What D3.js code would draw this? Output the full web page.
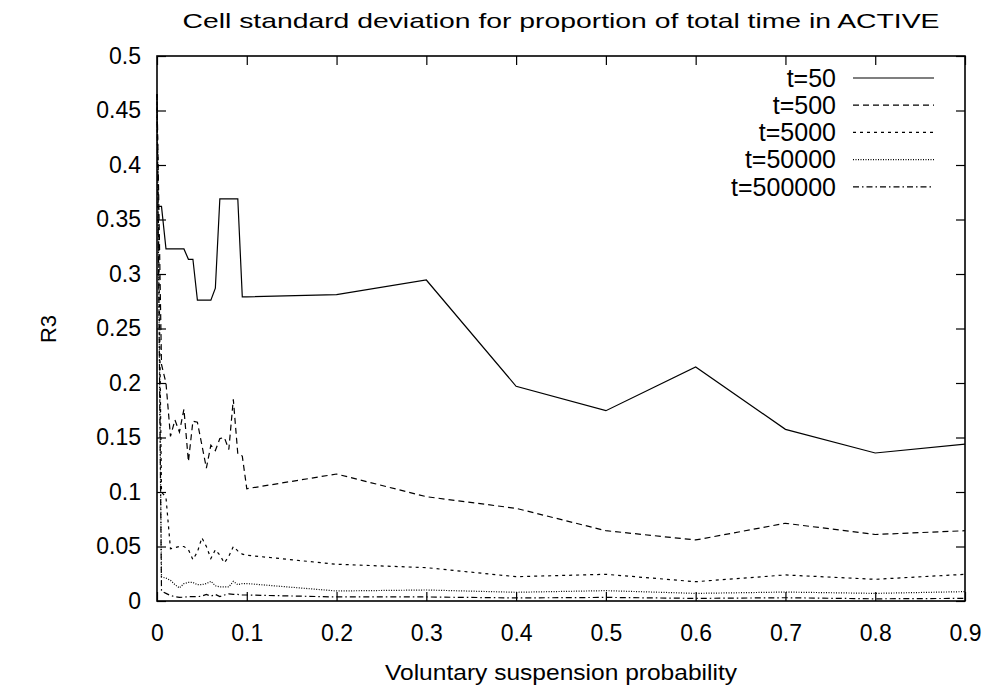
<!DOCTYPE html>
<html><head><meta charset="utf-8">
<script src="https://cdn.jsdelivr.net/npm/d3@7"></script>
<style>body{margin:0;background:#fff}svg{display:block}text{font-family:"Liberation Sans",Arial,sans-serif;fill:#000}</style>
</head><body><svg id="c" width="992" height="690"></svg>
<script>
const titleText = "Cell standard deviation for proportion of total time in ACTIVE";
const xLabel = "Voluntary suspension probability";
const yLabel = "R3";
const xTicks = [0,0.1,0.2,0.3,0.4,0.5,0.6,0.7,0.8,0.9];
const yTicks = [0,0.05,0.1,0.15,0.2,0.25,0.3,0.35,0.4,0.45,0.5];
const xValues = [0,0.005,0.01,0.015,0.02,0.025,0.03,0.035,0.04,0.045,0.05,0.055,0.06,0.065,0.07,0.075,0.08,0.085,0.09,0.095,0.1,0.2,0.3,0.4,0.5,0.6,0.7,0.8,0.9];
const seriesNames = ["t=50","t=500","t=5000","t=50000","t=500000"];
const t50 = [0.362,0.362,0.323,0.323,0.323,0.323,0.323,0.3135,0.3135,0.276,0.276,0.276,0.276,0.287,0.369,0.369,0.369,0.369,0.369,0.279,0.279,0.281,0.2945,0.197,0.1746,0.2147,0.1575,0.1358,0.144];
const t500 = [0.465,0.217,0.2,0.151,0.166,0.155,0.176,0.128,0.165,0.164,0.143,0.122,0.143,0.138,0.149,0.150,0.139,0.185,0.135,0.133,0.103,0.1165,0.0957,0.085,0.0645,0.056,0.0713,0.061,0.0645];
const t5000 = [0.465,0.1,0.095,0.048,0.049,0.05,0.05,0.047,0.038,0.045,0.058,0.05,0.039,0.047,0.042,0.035,0.041,0.05,0.046,0.043,0.042,0.0337,0.0306,0.0223,0.0245,0.0177,0.0239,0.0199,0.0245];
const t50000 = [0.465,0.022,0.021,0.019,0.015,0.012,0.016,0.017,0.017,0.015,0.015,0.016,0.018,0.014,0.013,0.013,0.013,0.018,0.015,0.016,0.016,0.0092,0.0101,0.008,0.0095,0.007,0.0082,0.007,0.0086];
const t500000 = [0.465,0.009,0.007,0.005,0.004,0.0034,0.0035,0.004,0.004,0.004,0.0045,0.006,0.0045,0.006,0.004,0.0055,0.0065,0.006,0.006,0.0055,0.0055,0.0037,0.0037,0.0028,0.0033,0.0024,0.003,0.002,0.0024];
const seriesValues = [t50,t500,t5000,t50000,t500000];
const dashes = [null,"6,4","3,4","1,1.5","6,3,1.5,3"];

const svg = d3.select("#c");
const L=157,R=965,T=56,B=601;
const x = d3.scaleLinear().domain([0,0.9]).range([L,R]);
const y = d3.scaleLinear().domain([0,0.5]).range([B,T]);
const fmt = d => d===0?"0":String(+d.toFixed(2));

function styleAxis(g){ g.select(".domain").remove(); g.selectAll("line").attr("stroke","#000").attr("stroke-width",1.2); g.selectAll("text").attr("font-size",23).attr("font-family","'Liberation Sans',Arial,sans-serif").attr("fill","#000"); }

svg.append("g").attr("transform",`translate(0,${B})`).call(d3.axisBottom(x).tickValues(xTicks).tickFormat(fmt).tickSizeInner(-9).tickSizeOuter(0).tickPadding(40)).call(styleAxis)
  .selectAll("text").attr("dy","0");
svg.append("g").attr("transform",`translate(0,${T})`).call(d3.axisTop(x).tickValues(xTicks).tickFormat("").tickSizeInner(-9).tickSizeOuter(0)).call(styleAxis);
svg.append("g").attr("transform",`translate(${L},0)`).call(d3.axisLeft(y).tickValues(yTicks).tickFormat(fmt).tickSizeInner(-9).tickSizeOuter(0).tickPadding(16)).call(styleAxis);
svg.append("g").attr("transform",`translate(${R},0)`).call(d3.axisRight(y).tickValues(yTicks).tickFormat("").tickSizeInner(-9).tickSizeOuter(0)).call(styleAxis);

const line = d3.line().x((d,i)=>x(xValues[i])).y(d=>y(d));
seriesValues.forEach((vals,k)=>{
  svg.append("path").attr("d",line(vals)).attr("fill","none").attr("stroke","#000").attr("stroke-width",1.2)
    .attr("stroke-dasharray",dashes[k]);
});

svg.append("rect").attr("x",L).attr("y",T).attr("width",R-L).attr("height",B-T).attr("fill","none").attr("stroke","#000").attr("stroke-width",1.6);

const lg = svg.append("g");
seriesNames.forEach((n,k)=>{
  const yy = 78 + k*27.2;
  lg.append("text").attr("x",836).attr("y",yy).attr("dy","0.35em").attr("text-anchor","end").attr("font-size",25).text(n);
  lg.append("line").attr("x1",853).attr("x2",934).attr("y1",yy).attr("y2",yy).attr("stroke","#000").attr("stroke-width",1.2).attr("stroke-dasharray",dashes[k]);
});

svg.append("text").attr("x",(L+R)/2).attr("y",28).attr("text-anchor","middle").attr("font-size",21).attr("textLength",757).attr("lengthAdjust","spacingAndGlyphs").text(titleText);
svg.append("text").attr("x",(L+R)/2).attr("y",680).attr("text-anchor","middle").attr("font-size",22).attr("textLength",352).attr("lengthAdjust","spacingAndGlyphs").text(xLabel);
svg.append("text").attr("transform","translate(56,329) rotate(-90)").attr("text-anchor","middle").attr("font-size",22).text(yLabel);
</script></body></html>
